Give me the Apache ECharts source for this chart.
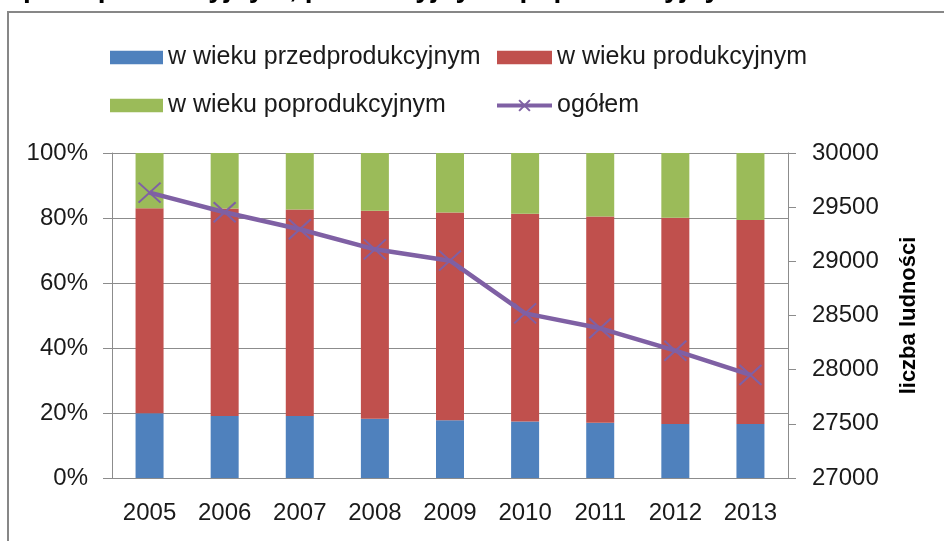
<!DOCTYPE html>
<html lang="pl">
<head>
    <meta charset="UTF-8">
    <title>ludność</title>
    <script src="https://cdn.jsdelivr.net/npm/echarts@6.0.0/dist/echarts.min.js"></script>
    <style>
        html, body { margin: 0; padding: 0; background: #fff; }
    </style>
</head>
<body>
    <div id="main" style="width: 944px;height:541px;"></div>

    <script>
        // dane
        var lata = ['2005', '2006', '2007', '2008', '2009', '2010', '2011', '2012', '2013'];
        var przedprodukcyjny = [19.9, 19.1, 19.1, 18.2, 17.8, 17.4, 17.0, 16.6, 16.6];
        var produkcyjny = [63.1, 63.8, 63.5, 64.0, 63.9, 63.9, 63.5, 63.5, 62.8];
        var poprodukcyjny = [17.0, 17.1, 17.4, 17.8, 18.3, 18.7, 19.5, 19.9, 20.6];
        var ogolem = [29634, 29453, 29296, 29111, 29006, 28520, 28382, 28175, 27951];

        var font = "'Liberation Sans', Arial, sans-serif";
        var gray = '#8c8c8c';
        var fiolet = '#7f60a4';
        var krzyzyk = 'path://M0,0L10,10M10,0L0,10';

        var myChart = echarts.init(document.getElementById('main'));

        var option = {
            animation: false,
            textStyle: { fontFamily: font },
            graphic: [
                {
                    type: 'rect',
                    shape: { x: 8, y: 12, width: 1000, height: 1000 },
                    style: { fill: null, stroke: '#878787', lineWidth: 2 }
                },
                {
                    // tytuł ucięty u góry, widać tylko dolne końce liter
                    type: 'text',
                    x: 745, y: 3,
                    style: {
                        text: 'Ludność w wieku przedprodukcyjnym, produkcyjnym i poprodukcyjnym',
                        textAlign: 'right',
                        textVerticalAlign: 'bottom',
                        fontFamily: font,
                        fontSize: 28,
                        fontWeight: 'bold',
                        fill: '#000'
                    }
                }
            ],
            legend: [
                {
                    left: 105, top: 40,
                    orient: 'vertical',
                    itemWidth: 53, itemHeight: 13.5, itemGap: 23,
                    textStyle: { fontSize: 25, color: '#1a1a1a', fontFamily: font },
                    data: [
                        { name: 'w wieku przedprodukcyjnym', icon: 'rect' },
                        { name: 'w wieku poprodukcyjnym', icon: 'rect' }
                    ]
                },
                {
                    left: 490, top: 40,
                    orient: 'vertical',
                    itemWidth: 55, itemHeight: 13.5, itemGap: 23,
                    textStyle: { fontSize: 25, color: '#1a1a1a', fontFamily: font },
                    lineStyle: { width: 4 },
                    data: [
                        { name: 'w wieku produkcyjnym', icon: 'rect' },
                        { name: 'ogółem' }
                    ]
                }
            ],
            grid: { left: 112, right: 156, top: 153, bottom: 63 },
            xAxis: {
                type: 'category',
                data: lata,
                axisLine: { lineStyle: { color: gray } },
                axisTick: { length: 10, lineStyle: { color: gray } },
                axisLabel: { fontSize: 24, color: '#1a1a1a', margin: 23 }
            },
            yAxis: [
                {
                    type: 'value',
                    min: 0, max: 100, interval: 20,
                    axisLine: { show: true, lineStyle: { color: gray } },
                    axisTick: { show: true, length: 9, lineStyle: { color: gray } },
                    axisLabel: { fontSize: 24, color: '#1a1a1a', margin: 24, formatter: '{value}%' },
                    splitLine: { lineStyle: { color: gray } }
                },
                {
                    type: 'value',
                    position: 'right',
                    min: 27000, max: 30000, interval: 500,
                    name: 'liczba ludności',
                    nameLocation: 'middle',
                    nameRotate: 90,
                    nameGap: 110,
                    nameTextStyle: { fontSize: 22, fontWeight: 'bold', color: '#000', fontFamily: font },
                    axisLine: { show: true, lineStyle: { color: gray } },
                    axisTick: { show: true, length: 8, lineStyle: { color: gray } },
                    axisLabel: {
                        fontSize: 24, color: '#1a1a1a', margin: 24,
                        formatter: function (v) { return String(v); }
                    },
                    splitLine: { show: false }
                }
            ],
            series: [
                {
                    name: 'w wieku przedprodukcyjnym',
                    type: 'bar', stack: 'suma', barWidth: 28,
                    itemStyle: { color: '#4f81bd' },
                    data: przedprodukcyjny
                },
                {
                    name: 'w wieku produkcyjnym',
                    type: 'bar', stack: 'suma', barWidth: 28,
                    itemStyle: { color: '#c0504d' },
                    data: produkcyjny
                },
                {
                    name: 'w wieku poprodukcyjnym',
                    type: 'bar', stack: 'suma', barWidth: 28,
                    itemStyle: { color: '#9bbb59' },
                    data: poprodukcyjny
                },
                {
                    name: 'ogółem',
                    type: 'line',
                    yAxisIndex: 1,
                    symbol: krzyzyk,
                    symbolSize: [22, 20],
                    lineStyle: { color: fiolet, width: 4.5 },
                    itemStyle: { color: fiolet, borderColor: fiolet, borderWidth: 2 },
                    data: ogolem
                }
            ]
        };

        myChart.setOption(option);
    </script>
</body>
</html>
